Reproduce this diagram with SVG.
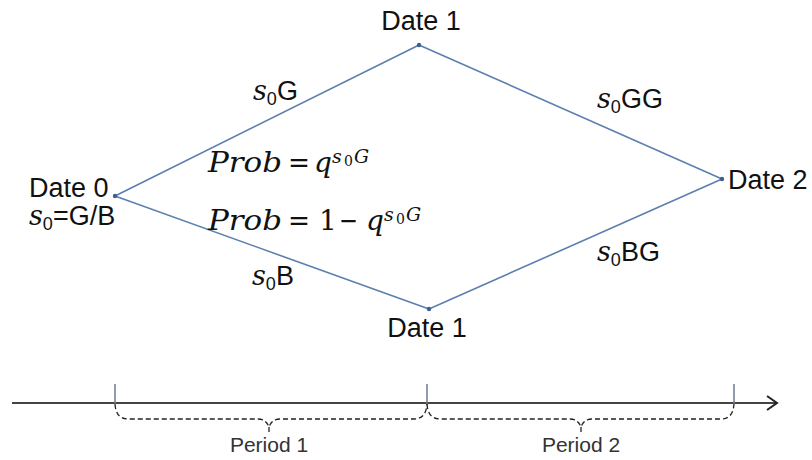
<svg xmlns="http://www.w3.org/2000/svg" width="812" height="460" viewBox="0 0 812 460">
<defs>
<style>
.bg{fill:#ffffff}
.edge{stroke:#5b7fae;stroke-width:1.6;fill:none}
.dot{fill:#3f5f8c}
.lbl{font-family:"Liberation Sans",Arial,sans-serif;font-size:27px;fill:#111}
.mi{font-family:"DejaVu Serif","Liberation Serif",serif;font-style:italic;fill:#111}
.mu{font-family:"DejaVu Serif","Liberation Serif",serif;font-style:normal;fill:#111}
.big{font-size:28px}
.sup{font-size:19px}
.sub{font-size:14px}
.axis{stroke:#444;stroke-width:2;fill:none}
.tick{stroke:#6b7b93;stroke-width:1.5}
.brace{stroke:#222;stroke-width:1.3;fill:none;stroke-dasharray:5 3}
.per{font-family:"Liberation Sans",Arial,sans-serif;font-size:21px;fill:#333}
</style>
<marker id="arr" markerWidth="14" markerHeight="16" refX="12" refY="8" orient="auto" markerUnits="userSpaceOnUse">
<path d="M2,1 L12,8 L2,15" stroke="#222" stroke-width="2" fill="none"/>
</marker>
</defs>
<rect class="bg" x="0" y="0" width="812" height="460"/>

<g id="connectors">
<line class="edge" x1="115" y1="196" x2="419" y2="45"/>
<line class="edge" x1="115" y1="196" x2="429" y2="309"/>
<line class="edge" x1="419" y1="45" x2="722" y2="179"/>
<line class="edge" x1="429" y1="309" x2="722" y2="179"/>
</g>

<g id="node-date0">
<circle class="dot" cx="115" cy="196" r="2.2"/>
<text class="lbl" x="29" y="197">Date 0</text>
<text class="lbl" x="29" y="225"><tspan class="mi">s</tspan><tspan font-size="18" dy="5">0</tspan><tspan dy="-5">=G/B</tspan></text>
</g>
<g id="node-date1-top">
<circle class="dot" cx="419" cy="45" r="2.2"/>
<text class="lbl" x="421" y="30" text-anchor="middle">Date 1</text>
</g>
<g id="node-date1-bottom">
<circle class="dot" cx="429" cy="309" r="2.2"/>
<text class="lbl" x="427" y="337" text-anchor="middle">Date 1</text>
</g>
<g id="node-date2">
<circle class="dot" cx="722" cy="179" r="2.2"/>
<text class="lbl" x="728" y="189">Date 2</text>
</g>

<g id="edge-labels">
<text class="lbl" x="253" y="100"><tspan class="mi">s</tspan><tspan font-size="18" dy="5">0</tspan><tspan dy="-5">G</tspan></text>
<text class="lbl" x="252" y="285"><tspan class="mi">s</tspan><tspan font-size="18" dy="5">0</tspan><tspan dy="-5">B</tspan></text>
<text class="lbl" x="597" y="108"><tspan class="mi">s</tspan><tspan font-size="18" dy="5">0</tspan><tspan dy="-5">GG</tspan></text>
<text class="lbl" x="597" y="261"><tspan class="mi">s</tspan><tspan font-size="18" dy="5">0</tspan><tspan dy="-5">BG</tspan></text>
</g>

<g id="prob-labels">
<text class="mi big" x="208" y="172" textLength="74" lengthAdjust="spacingAndGlyphs">Prob</text>
<text class="mu big" x="288" y="172" textLength="22" lengthAdjust="spacingAndGlyphs">=</text>
<text class="mi big" x="314" y="172">q</text>
<text class="mi sup" x="332" y="163">s</text>
<text class="mu sub" x="344" y="166">0</text>
<text class="mi sup" x="354" y="163">G</text>

<text class="mi big" x="208" y="230" textLength="74" lengthAdjust="spacingAndGlyphs">Prob</text>
<text class="mu big" x="288" y="230" textLength="22" lengthAdjust="spacingAndGlyphs">=</text>
<text class="mu big" x="319" y="230">1</text>
<text class="mu big" x="339" y="230" textLength="19" lengthAdjust="spacingAndGlyphs">−</text>
<text class="mi big" x="366" y="230">q</text>
<text class="mi sup" x="384" y="221">s</text>
<text class="mu sub" x="396" y="224">0</text>
<text class="mi sup" x="406" y="221">G</text>
</g>

<g id="timeline">
<line class="axis" x1="12" y1="403" x2="777" y2="403" marker-end="url(#arr)"/>
<line class="tick" x1="115" y1="384" x2="115" y2="404"/>
<line class="tick" x1="427" y1="384" x2="427" y2="404"/>
<line class="tick" x1="734" y1="384" x2="734" y2="404"/>
<path class="brace" d="M115,404 Q116,419 128,419 H258 Q266,419 269,427 Q272,419 280,419 H414 Q426,419 427,404 M269,427 V433"/>
<path class="brace" d="M427,404 Q428,419 440,419 H570 Q578,419 581,427 Q584,419 592,419 H721 Q733,419 734,404 M581,427 V433"/>
<text class="per" x="269" y="452" text-anchor="middle">Period 1</text>
<text class="per" x="581" y="452" text-anchor="middle">Period 2</text>
</g>
</svg>
